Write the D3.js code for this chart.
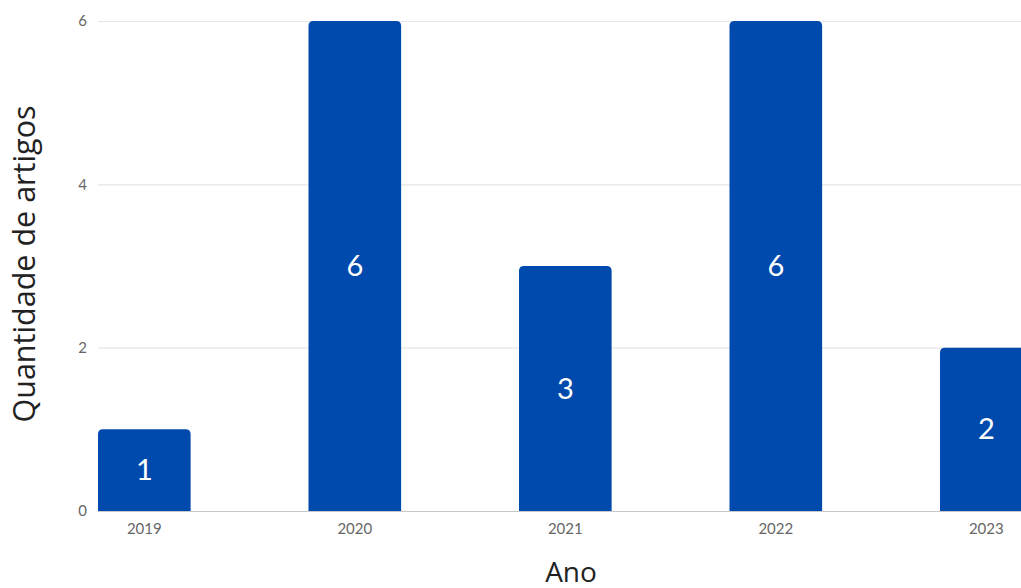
<!DOCTYPE html>
<html>
<head>
<meta charset="utf-8">
<script src="https://cdn.jsdelivr.net/npm/d3@7"></script>
<style>
  body { margin: 0; background: #fff; }
  svg { display: block; font-family: Lato, "Open Sans", sans-serif; }
</style>
</head>
<body>
<svg width="1021" height="588"></svg>
<script>
// data
var years = ["2019", "2020", "2021", "2022", "2023"];
var counts = [1, 6, 3, 6, 2];
var yTicks = [0, 2, 4, 6];

var svg = d3.select("svg"),
    width = +svg.attr("width"),
    height = +svg.attr("height");

var plotLeft = 98, plotTop = 21, plotBottom = 511;

// step ~210.5 px, bars ~93 px wide; last bar runs off the right edge
var x = d3.scaleBand()
    .domain(years)
    .range([plotLeft, plotLeft + 210.5 * (years.length - 0.56)])
    .paddingInner(0.56)
    .paddingOuter(0);

var y = d3.scaleLinear()
    .domain([0, 6])
    .range([plotBottom, plotTop]);

// gridlines
svg.append("g")
    .selectAll("line")
    .data(yTicks.filter(function(d) { return d > 0; }))
    .enter().append("line")
    .attr("x1", plotLeft)
    .attr("x2", width)
    .attr("y1", function(d) { return y(d) + 0.5; })
    .attr("y2", function(d) { return y(d) + 0.5; })
    .attr("stroke", "#e6e6e6")
    .attr("stroke-width", 1.2);

// y tick labels
svg.append("g")
    .selectAll("text")
    .data(yTicks)
    .enter().append("text")
    .attr("x", 87)
    .attr("y", function(d) { return y(d); })
    .attr("dy", "0.35em")
    .attr("text-anchor", "end")
    .attr("font-size", 15)
    .attr("fill", "#666")
    .text(function(d) { return d; });

// bars with rounded top corners
var r = 5;
function barPath(d, i) {
    var x0 = x(years[i]), x1 = x0 + x.bandwidth(),
        y0 = y(d), y1 = y(0);
    return "M" + x0 + "," + y1 +
        "V" + (y0 + r) +
        "Q" + x0 + "," + y0 + " " + (x0 + r) + "," + y0 +
        "H" + (x1 - r) +
        "Q" + x1 + "," + y0 + " " + x1 + "," + (y0 + r) +
        "V" + y1 + "Z";
}

svg.append("g")
    .selectAll("path")
    .data(counts)
    .enter().append("path")
    .attr("d", barPath)
    .attr("fill", "#014aad");

// baseline
svg.append("line")
    .attr("x1", plotLeft)
    .attr("x2", width)
    .attr("y1", plotBottom + 0.5)
    .attr("y2", plotBottom + 0.5)
    .attr("stroke", "#c8c8c8")
    .attr("stroke-width", 1.2);

// value labels
svg.append("g")
    .selectAll("text")
    .data(counts)
    .enter().append("text")
    .attr("x", function(d, i) { return x(years[i]) + x.bandwidth() / 2; })
    .attr("y", function(d) { return (y(d) + y(0)) / 2; })
    .attr("dy", "0.35em")
    .attr("text-anchor", "middle")
    .attr("font-size", 29)
    .attr("fill", "#fff")
    .text(function(d) { return d; });

// x tick labels
svg.append("g")
    .selectAll("text")
    .data(years)
    .enter().append("text")
    .attr("x", function(d) { return x(d) + x.bandwidth() / 2; })
    .attr("y", 529)
    .attr("dy", "0.35em")
    .attr("text-anchor", "middle")
    .attr("font-size", 15)
    .attr("fill", "#666")
    .text(function(d) { return d; });

// axis titles
svg.append("text")
    .attr("x", 571)
    .attr("y", 582)
    .attr("text-anchor", "middle")
    .attr("font-family", "'Open Sans', sans-serif")
    .attr("font-size", 28)
    .attr("fill", "#222")
    .text("Ano");

svg.append("text")
    .attr("transform", "translate(35,264) rotate(-90)")
    .attr("text-anchor", "middle")
    .attr("font-family", "'Open Sans', sans-serif")
    .attr("font-size", 30.5)
    .attr("fill", "#222")
    .text("Quantidade de artigos");
</script>
</body>
</html>
